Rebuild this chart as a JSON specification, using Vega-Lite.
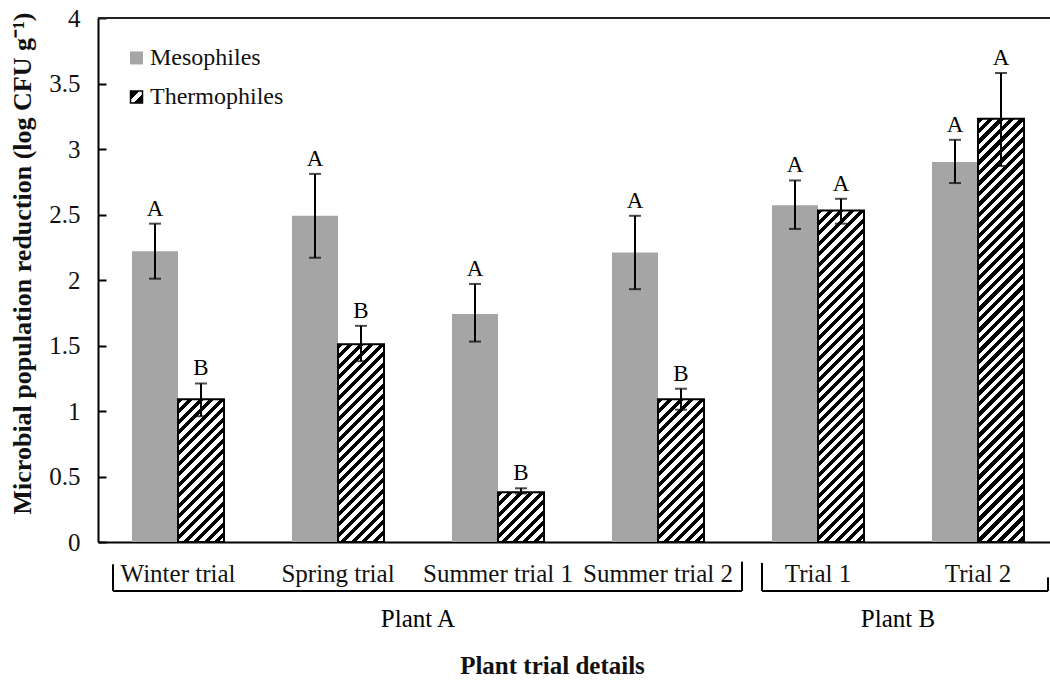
{
  "$schema": "https://vega.github.io/schema/vega-lite/v6.json",
  "autosize": {"type": "none"},
  "padding": {"left": 98, "top": 18, "right": 0, "bottom": 139},
  "width": 952,
  "height": 524,
  "background": "white",
  "params": [
    {"name": "hatchLen", "value": 525},
    {"name": "hatchStops", "value": [
      {"offset":0,"color":"#000"},{"offset":0.01,"color":"#000"},{"offset":0.01,"color":"#fff"},{"offset":0.02,"color":"#fff"},
      {"offset":0.02,"color":"#000"},{"offset":0.03,"color":"#000"},{"offset":0.03,"color":"#fff"},{"offset":0.04,"color":"#fff"},
      {"offset":0.04,"color":"#000"},{"offset":0.05,"color":"#000"},{"offset":0.05,"color":"#fff"},{"offset":0.06,"color":"#fff"},
      {"offset":0.06,"color":"#000"},{"offset":0.07,"color":"#000"},{"offset":0.07,"color":"#fff"},{"offset":0.08,"color":"#fff"},
      {"offset":0.08,"color":"#000"},{"offset":0.09,"color":"#000"},{"offset":0.09,"color":"#fff"},{"offset":0.1,"color":"#fff"},
      {"offset":0.1,"color":"#000"},{"offset":0.11,"color":"#000"},{"offset":0.11,"color":"#fff"},{"offset":0.12,"color":"#fff"},
      {"offset":0.12,"color":"#000"},{"offset":0.13,"color":"#000"},{"offset":0.13,"color":"#fff"},{"offset":0.14,"color":"#fff"},
      {"offset":0.14,"color":"#000"},{"offset":0.15,"color":"#000"},{"offset":0.15,"color":"#fff"},{"offset":0.16,"color":"#fff"},
      {"offset":0.16,"color":"#000"},{"offset":0.17,"color":"#000"},{"offset":0.17,"color":"#fff"},{"offset":0.18,"color":"#fff"},
      {"offset":0.18,"color":"#000"},{"offset":0.19,"color":"#000"},{"offset":0.19,"color":"#fff"},{"offset":0.2,"color":"#fff"},
      {"offset":0.2,"color":"#000"},{"offset":0.21,"color":"#000"},{"offset":0.21,"color":"#fff"},{"offset":0.22,"color":"#fff"},
      {"offset":0.22,"color":"#000"},{"offset":0.23,"color":"#000"},{"offset":0.23,"color":"#fff"},{"offset":0.24,"color":"#fff"},
      {"offset":0.24,"color":"#000"},{"offset":0.25,"color":"#000"},{"offset":0.25,"color":"#fff"},{"offset":0.26,"color":"#fff"},
      {"offset":0.26,"color":"#000"},{"offset":0.27,"color":"#000"},{"offset":0.27,"color":"#fff"},{"offset":0.28,"color":"#fff"},
      {"offset":0.28,"color":"#000"},{"offset":0.29,"color":"#000"},{"offset":0.29,"color":"#fff"},{"offset":0.3,"color":"#fff"},
      {"offset":0.3,"color":"#000"},{"offset":0.31,"color":"#000"},{"offset":0.31,"color":"#fff"},{"offset":0.32,"color":"#fff"},
      {"offset":0.32,"color":"#000"},{"offset":0.33,"color":"#000"},{"offset":0.33,"color":"#fff"},{"offset":0.34,"color":"#fff"},
      {"offset":0.34,"color":"#000"},{"offset":0.35,"color":"#000"},{"offset":0.35,"color":"#fff"},{"offset":0.36,"color":"#fff"},
      {"offset":0.36,"color":"#000"},{"offset":0.37,"color":"#000"},{"offset":0.37,"color":"#fff"},{"offset":0.38,"color":"#fff"},
      {"offset":0.38,"color":"#000"},{"offset":0.39,"color":"#000"},{"offset":0.39,"color":"#fff"},{"offset":0.4,"color":"#fff"},
      {"offset":0.4,"color":"#000"},{"offset":0.41,"color":"#000"},{"offset":0.41,"color":"#fff"},{"offset":0.42,"color":"#fff"},
      {"offset":0.42,"color":"#000"},{"offset":0.43,"color":"#000"},{"offset":0.43,"color":"#fff"},{"offset":0.44,"color":"#fff"},
      {"offset":0.44,"color":"#000"},{"offset":0.45,"color":"#000"},{"offset":0.45,"color":"#fff"},{"offset":0.46,"color":"#fff"},
      {"offset":0.46,"color":"#000"},{"offset":0.47,"color":"#000"},{"offset":0.47,"color":"#fff"},{"offset":0.48,"color":"#fff"},
      {"offset":0.48,"color":"#000"},{"offset":0.49,"color":"#000"},{"offset":0.49,"color":"#fff"},{"offset":0.5,"color":"#fff"},
      {"offset":0.5,"color":"#000"},{"offset":0.51,"color":"#000"},{"offset":0.51,"color":"#fff"},{"offset":0.52,"color":"#fff"},
      {"offset":0.52,"color":"#000"},{"offset":0.53,"color":"#000"},{"offset":0.53,"color":"#fff"},{"offset":0.54,"color":"#fff"},
      {"offset":0.54,"color":"#000"},{"offset":0.55,"color":"#000"},{"offset":0.55,"color":"#fff"},{"offset":0.56,"color":"#fff"},
      {"offset":0.56,"color":"#000"},{"offset":0.57,"color":"#000"},{"offset":0.57,"color":"#fff"},{"offset":0.58,"color":"#fff"},
      {"offset":0.58,"color":"#000"},{"offset":0.59,"color":"#000"},{"offset":0.59,"color":"#fff"},{"offset":0.6,"color":"#fff"},
      {"offset":0.6,"color":"#000"},{"offset":0.61,"color":"#000"},{"offset":0.61,"color":"#fff"},{"offset":0.62,"color":"#fff"},
      {"offset":0.62,"color":"#000"},{"offset":0.63,"color":"#000"},{"offset":0.63,"color":"#fff"},{"offset":0.64,"color":"#fff"},
      {"offset":0.64,"color":"#000"},{"offset":0.65,"color":"#000"},{"offset":0.65,"color":"#fff"},{"offset":0.66,"color":"#fff"},
      {"offset":0.66,"color":"#000"},{"offset":0.67,"color":"#000"},{"offset":0.67,"color":"#fff"},{"offset":0.68,"color":"#fff"},
      {"offset":0.68,"color":"#000"},{"offset":0.69,"color":"#000"},{"offset":0.69,"color":"#fff"},{"offset":0.7,"color":"#fff"},
      {"offset":0.7,"color":"#000"},{"offset":0.71,"color":"#000"},{"offset":0.71,"color":"#fff"},{"offset":0.72,"color":"#fff"},
      {"offset":0.72,"color":"#000"},{"offset":0.73,"color":"#000"},{"offset":0.73,"color":"#fff"},{"offset":0.74,"color":"#fff"},
      {"offset":0.74,"color":"#000"},{"offset":0.75,"color":"#000"},{"offset":0.75,"color":"#fff"},{"offset":0.76,"color":"#fff"},
      {"offset":0.76,"color":"#000"},{"offset":0.77,"color":"#000"},{"offset":0.77,"color":"#fff"},{"offset":0.78,"color":"#fff"},
      {"offset":0.78,"color":"#000"},{"offset":0.79,"color":"#000"},{"offset":0.79,"color":"#fff"},{"offset":0.8,"color":"#fff"},
      {"offset":0.8,"color":"#000"},{"offset":0.81,"color":"#000"},{"offset":0.81,"color":"#fff"},{"offset":0.82,"color":"#fff"},
      {"offset":0.82,"color":"#000"},{"offset":0.83,"color":"#000"},{"offset":0.83,"color":"#fff"},{"offset":0.84,"color":"#fff"},
      {"offset":0.84,"color":"#000"},{"offset":0.85,"color":"#000"},{"offset":0.85,"color":"#fff"},{"offset":0.86,"color":"#fff"},
      {"offset":0.86,"color":"#000"},{"offset":0.87,"color":"#000"},{"offset":0.87,"color":"#fff"},{"offset":0.88,"color":"#fff"},
      {"offset":0.88,"color":"#000"},{"offset":0.89,"color":"#000"},{"offset":0.89,"color":"#fff"},{"offset":0.9,"color":"#fff"},
      {"offset":0.9,"color":"#000"},{"offset":0.91,"color":"#000"},{"offset":0.91,"color":"#fff"},{"offset":0.92,"color":"#fff"},
      {"offset":0.92,"color":"#000"},{"offset":0.93,"color":"#000"},{"offset":0.93,"color":"#fff"},{"offset":0.94,"color":"#fff"},
      {"offset":0.94,"color":"#000"},{"offset":0.95,"color":"#000"},{"offset":0.95,"color":"#fff"},{"offset":0.96,"color":"#fff"},
      {"offset":0.96,"color":"#000"},{"offset":0.97,"color":"#000"},{"offset":0.97,"color":"#fff"},{"offset":0.98,"color":"#fff"},
      {"offset":0.98,"color":"#000"},{"offset":0.99,"color":"#000"},{"offset":0.99,"color":"#fff"},{"offset":1,"color":"#fff"}
    ]}
  ],
  "datasets": {
    "trials": [
      {"plant": "Plant A", "trial": "Winter trial", "type": "Mesophiles", "value": 2.22, "lo": 2.01, "hi": 2.43, "letter": "A"},
      {"plant": "Plant A", "trial": "Winter trial", "type": "Thermophiles", "value": 1.09, "lo": 0.96, "hi": 1.21, "letter": "B"},
      {"plant": "Plant A", "trial": "Spring trial", "type": "Mesophiles", "value": 2.49, "lo": 2.17, "hi": 2.81, "letter": "A"},
      {"plant": "Plant A", "trial": "Spring trial", "type": "Thermophiles", "value": 1.51, "lo": 1.38, "hi": 1.65, "letter": "B"},
      {"plant": "Plant A", "trial": "Summer trial 1", "type": "Mesophiles", "value": 1.74, "lo": 1.53, "hi": 1.97, "letter": "A"},
      {"plant": "Plant A", "trial": "Summer trial 1", "type": "Thermophiles", "value": 0.38, "lo": 0.37, "hi": 0.41, "letter": "B"},
      {"plant": "Plant A", "trial": "Summer trial 2", "type": "Mesophiles", "value": 2.21, "lo": 1.93, "hi": 2.49, "letter": "A"},
      {"plant": "Plant A", "trial": "Summer trial 2", "type": "Thermophiles", "value": 1.09, "lo": 1.01, "hi": 1.17, "letter": "B"},
      {"plant": "Plant B", "trial": "Trial 1", "type": "Mesophiles", "value": 2.57, "lo": 2.39, "hi": 2.76, "letter": "A"},
      {"plant": "Plant B", "trial": "Trial 1", "type": "Thermophiles", "value": 2.53, "lo": 2.43, "hi": 2.62, "letter": "A"},
      {"plant": "Plant B", "trial": "Trial 2", "type": "Mesophiles", "value": 2.9, "lo": 2.74, "hi": 3.07, "letter": "A"},
      {"plant": "Plant B", "trial": "Trial 2", "type": "Thermophiles", "value": 3.23, "lo": 2.87, "hi": 3.58, "letter": "A"}
    ],
    "groups": [
      {"plant": "Plant A", "first": "Winter trial", "last": "Summer trial 2", "mid": "Spring trial"},
      {"plant": "Plant B", "first": "Trial 1", "last": "Trial 2", "mid": "Trial 1"}
    ]
  },
  "layer": [
    {
      "data": {"name": "trials"},
      "mark": {"type": "bar", "strokeWidth": 2},
      "encoding": {
        "x": {
          "field": "trial", "type": "nominal",
          "scale": {
            "domain": ["Winter trial", "Spring trial", "Summer trial 1", "Summer trial 2", "Trial 1", "Trial 2"],
            "paddingInner": 0.425, "paddingOuter": 0.2125, "range": [0, 960]
          },
          "axis": {
            "title": "Plant trial details", "labelAngle": 0, "ticks": false,
            "labelFontSize": 25, "labelPadding": 19,
            "titleFontSize": 25, "titleFontWeight": "bold",
            "titleX": 454, "titleY": 131, "titleBaseline": "alphabetic"
          }
        },
        "xOffset": {
          "field": "type", "type": "nominal",
          "scale": {"domain": ["Mesophiles", "Thermophiles"], "paddingInner": 0, "paddingOuter": 0}
        },
        "y": {
          "field": "value", "type": "quantitative",
          "scale": {"domain": [0, 4], "nice": false},
          "axis": {
            "title": "Microbial population reduction (log CFU g⁻¹)",
            "values": [0, 0.5, 1, 1.5, 2, 2.5, 3, 3.5, 4], "format": "~g",
            "tickSize": -8, "tickWidth": 2, "tickColor": "#000",
            "labelFontSize": 25, "labelPadding": 26,
            "titleFontSize": 26, "titleFontWeight": "bold", "titlePadding": 13, "titleY": 245
          }
        },
        "fill": {
          "field": "type", "type": "nominal",
          "scale": {"domain": ["Mesophiles", "Thermophiles"], "range": ["#a5a5a5", "#ffffff"]},
          "condition": {
            "test": "datum.type === 'Thermophiles'",
            "value": {"expr": "{gradient: 'linear', x1: 0, y1: 0, x2: bandwidth('xOffset') * hatchLen / (pow(bandwidth('xOffset'), 2) + pow(scale('y', 0) - scale('y', datum.value), 2)), y2: (scale('y', 0) - scale('y', datum.value)) * hatchLen / (pow(bandwidth('xOffset'), 2) + pow(scale('y', 0) - scale('y', datum.value), 2)), stops: hatchStops}"}
          },
          "legend": null
        },
        "stroke": {"condition": {"test": "datum.type === 'Thermophiles'", "value": "#000"}, "value": null}
      }
    },
    {
      "data": {"name": "trials"},
      "mark": {"type": "rule", "color": "#000", "strokeWidth": 2},
      "encoding": {
        "x": {"field": "trial", "type": "nominal"},
        "xOffset": {"field": "type", "type": "nominal"},
        "y": {"field": "lo", "type": "quantitative"},
        "y2": {"field": "hi"}
      }
    },
    {
      "data": {"name": "trials"},
      "mark": {"type": "tick", "color": "#000", "size": 12, "thickness": 2},
      "encoding": {
        "x": {"field": "trial", "type": "nominal"},
        "xOffset": {"field": "type", "type": "nominal"},
        "y": {"field": "lo", "type": "quantitative"}
      }
    },
    {
      "data": {"name": "trials"},
      "mark": {"type": "tick", "color": "#000", "size": 12, "thickness": 2},
      "encoding": {
        "x": {"field": "trial", "type": "nominal"},
        "xOffset": {"field": "type", "type": "nominal"},
        "y": {"field": "hi", "type": "quantitative"}
      }
    },
    {
      "data": {"name": "trials"},
      "mark": {"type": "text", "fontSize": 23, "baseline": "alphabetic", "dy": -8, "color": "#000"},
      "encoding": {
        "x": {"field": "trial", "type": "nominal"},
        "xOffset": {"field": "type", "type": "nominal"},
        "y": {"field": "hi", "type": "quantitative"},
        "text": {"field": "letter"}
      }
    },
    {
      "data": {"values": [{"edge": "top"}]},
      "mark": {"type": "rule", "color": "#222", "strokeWidth": 2},
      "encoding": {"y": {"datum": 4}}
    },
    {
      "data": {"values": [{"label": "Mesophiles"}]},
      "layer": [
        {
          "mark": {"type": "point", "shape": "square", "size": 169, "filled": true, "color": "#a5a5a5", "opacity": 1},
          "encoding": {"x": {"datum": "Winter trial", "bandPosition": 0.049}, "y": {"datum": 3.695}}
        },
        {
          "mark": {"type": "text", "align": "left", "baseline": "middle", "fontSize": 24, "color": "#111"},
          "encoding": {"x": {"datum": "Winter trial", "bandPosition": 0.196}, "y": {"datum": 3.695}, "text": {"field": "label"}}
        }
      ]
    },
    {
      "data": {"values": [{"label": "Thermophiles"}]},
      "layer": [
        {
          "mark": {
            "type": "point", "shape": "square", "size": 144, "filled": true, "opacity": 1,
            "stroke": "#000", "strokeWidth": 1.5,
            "fill": {"gradient": "linear", "x1": 0, "y1": 0, "x2": 1, "y2": 1, "stops": [
              {"offset": 0, "color": "#000"}, {"offset": 0.36, "color": "#000"}, {"offset": 0.36, "color": "#fff"},
              {"offset": 0.64, "color": "#fff"}, {"offset": 0.64, "color": "#000"}, {"offset": 1, "color": "#000"}
            ]}
          },
          "encoding": {"x": {"datum": "Winter trial", "bandPosition": 0.049}, "y": {"datum": 3.397}}
        },
        {
          "mark": {"type": "text", "align": "left", "baseline": "middle", "fontSize": 24, "color": "#111"},
          "encoding": {"x": {"datum": "Winter trial", "bandPosition": 0.196}, "y": {"datum": 3.397}, "text": {"field": "label"}}
        }
      ]
    },
    {
      "data": {"name": "groups"},
      "transform": [{"filter": "datum.plant === 'Plant A'"}],
      "layer": [
        {
          "mark": {"type": "rule", "color": "#000", "strokeWidth": 2},
          "encoding": {
            "x": {"field": "first", "type": "nominal", "bandPosition": -0.2065},
            "x2": {"field": "last", "bandPosition": 1.413},
            "y": {"datum": -0.374}
          }
        },
        {
          "mark": {"type": "rule", "color": "#000", "strokeWidth": 2},
          "encoding": {
            "x": {"field": "first", "type": "nominal", "bandPosition": -0.2065},
            "y": {"datum": -0.374},
            "y2": {"datum": -0.17}
          }
        },
        {
          "mark": {"type": "rule", "color": "#000", "strokeWidth": 2},
          "encoding": {
            "x": {"field": "last", "type": "nominal", "bandPosition": 1.413},
            "y": {"datum": -0.374},
            "y2": {"datum": -0.15}
          }
        },
        {
          "mark": {"type": "text", "fontSize": 25, "baseline": "alphabetic", "align": "center", "color": "#000"},
          "encoding": {
            "x": {"field": "mid", "type": "nominal", "bandPosition": 1.3696},
            "y": {"datum": -0.649},
            "text": {"field": "plant"}
          }
        }
      ]
    },
    {
      "data": {"name": "groups"},
      "transform": [{"filter": "datum.plant === 'Plant B'"}],
      "layer": [
        {
          "mark": {"type": "rule", "color": "#000", "strokeWidth": 2},
          "encoding": {
            "x": {"field": "first", "type": "nominal", "bandPosition": -0.1087},
            "x2": {"field": "last", "bandPosition": 1.261},
            "y": {"datum": -0.374}
          }
        },
        {
          "mark": {"type": "rule", "color": "#000", "strokeWidth": 2},
          "encoding": {
            "x": {"field": "first", "type": "nominal", "bandPosition": -0.1087},
            "y": {"datum": -0.374},
            "y2": {"datum": -0.16}
          }
        },
        {
          "mark": {"type": "rule", "color": "#000", "strokeWidth": 2},
          "encoding": {
            "x": {"field": "last", "type": "nominal", "bandPosition": 1.261},
            "y": {"datum": -0.374},
            "y2": {"datum": -0.27}
          }
        },
        {
          "mark": {"type": "text", "fontSize": 25, "baseline": "alphabetic", "align": "center", "color": "#000"},
          "encoding": {
            "x": {"field": "mid", "type": "nominal", "bandPosition": 1.3696},
            "y": {"datum": -0.649},
            "text": {"field": "plant"}
          }
        }
      ]
    }
  ],
  "config": {
    "view": {"stroke": null},
    "font": "Liberation Serif",
    "axis": {
      "domainColor": "#000", "domainWidth": 2, "grid": false,
      "labelFont": "Liberation Serif", "labelColor": "#111",
      "titleFont": "Liberation Serif", "titleColor": "#111"
    },
    "text": {"font": "Liberation Serif"}
  }
}
